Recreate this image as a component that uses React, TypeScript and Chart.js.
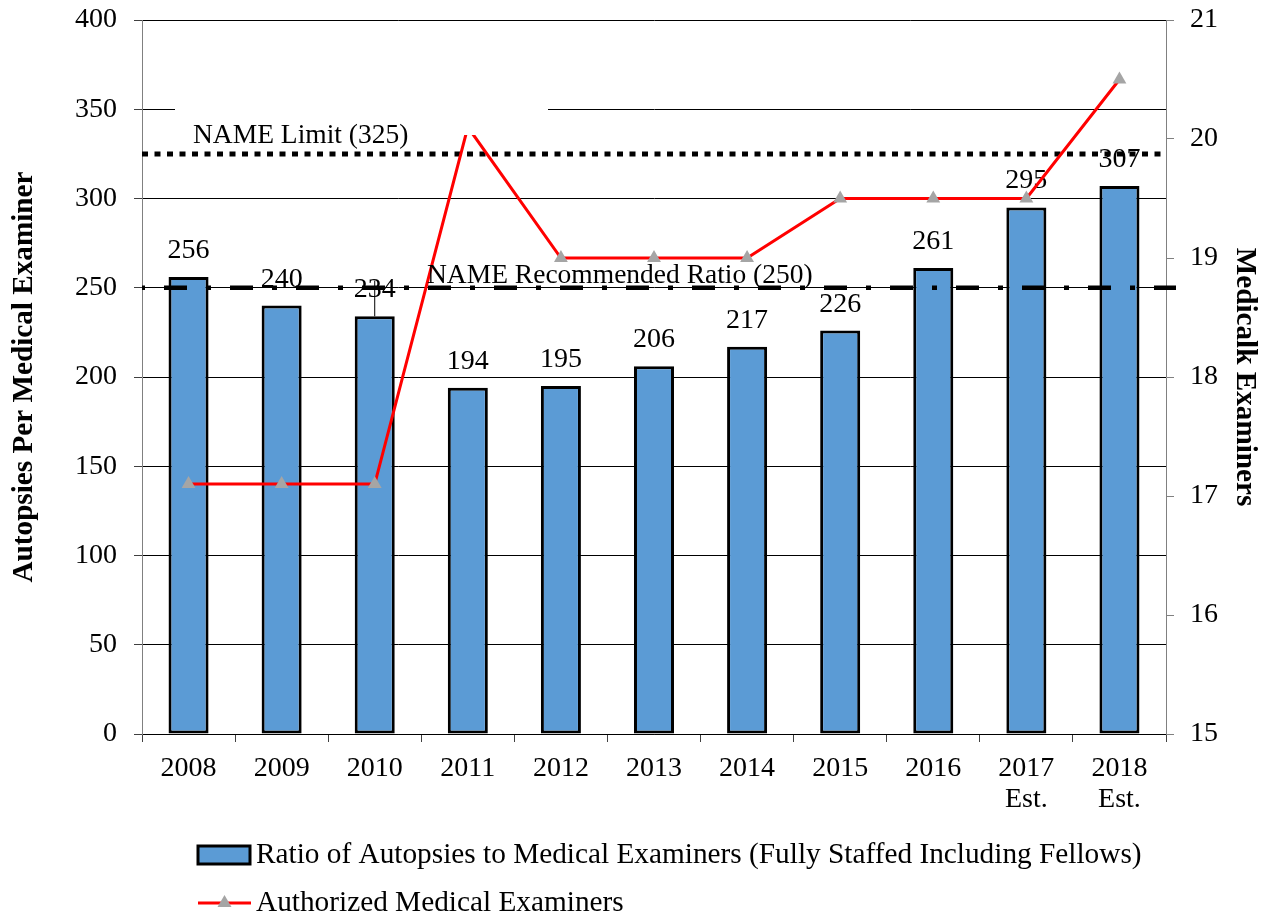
import React, { useEffect, useRef } from 'react';
import { Chart, registerables } from 'chart.js';

Chart.register(...registerables);

const categories: string[][] = [
  ['2008'], ['2009'], ['2010'], ['2011'], ['2012'], ['2013'], ['2014'], ['2015'], ['2016'],
  ['2017', 'Est.'], ['2018', 'Est.'],
];
const ratioValues = [256, 240, 234, 194, 195, 206, 217, 226, 261, 295, 307];
const examinerValues = [17.1, 17.1, 17.1, 20.1, 19, 19, 19, 19.5, 19.5, 19.5, 20.5];
const nameLimit = 325;
const nameRecommended = 250;
const ratioLabel = 'Ratio of Autopsies to Medical Examiners (Fully Staffed Including Fellows)';
const examinerLabel = 'Authorized Medical Examiners';
const leftTitle = 'Autopsies Per Medical Examiner';
const rightTitle = 'Medicalk Examiners';
const limitText = 'NAME Limit (325)';
const recommendedText = 'NAME Recommended Ratio (250)';

const FONT = '"Liberation Serif", "Times New Roman", serif';
const BAR_BLUE = '#5B9BD5';
const LINE_RED = '#FF0000';
const POINT_GRAY = '#A5A5A5';

const annotationPlugin = {
  id: 'annotations',
  afterDatasetDraw(chart: any, args: any) {
    if (args.index !== 0) return;
    const ctx = chart.ctx;
    const { left, right } = chart.chartArea;
    const y = chart.scales.y;
    ctx.save();
    // data labels
    ctx.font = `28px ${FONT}`;
    ctx.fillStyle = '#000';
    ctx.textAlign = 'center';
    ctx.textBaseline = 'alphabetic';
    args.meta.data.forEach((bar: any, i: number) => {
      ctx.fillText(String(ratioValues[i]), bar.x, bar.y - 19);
    });
    // small vertical connector above 2010 bar
    const b2010 = args.meta.data[2];
    ctx.strokeStyle = '#000';
    ctx.lineWidth = 1;
    ctx.beginPath();
    ctx.moveTo(b2010.x, y.getPixelForValue(nameRecommended) - 7);
    ctx.lineTo(b2010.x, b2010.y);
    ctx.stroke();
    // recommended dash-dot
    const yr = y.getPixelForValue(nameRecommended);
    ctx.lineWidth = 4.5;
    ctx.setLineDash([5, 19, 23, 19]);
    ctx.lineDashOffset = 2;
    ctx.beginPath();
    ctx.moveTo(left, yr);
    ctx.lineTo(right + 10, yr);
    ctx.stroke();
    // limit dotted
    const yl = y.getPixelForValue(nameLimit);
    ctx.lineWidth = 5;
    ctx.setLineDash([6, 6.5]);
    ctx.lineDashOffset = 0;
    ctx.beginPath();
    ctx.moveTo(left, yl);
    ctx.lineTo(right - 4, yl);
    ctx.stroke();
    ctx.restore();
  },
  afterDatasetsDraw(chart: any) {
    const ctx = chart.ctx;
    const y = chart.scales.y;
    ctx.save();
    // white label box for limit text
    ctx.fillStyle = '#fff';
    ctx.fillRect(175, 98, 373, 37);
    ctx.fillStyle = '#000';
    ctx.font = `27.5px ${FONT}`;
    ctx.textAlign = 'left';
    ctx.textBaseline = 'alphabetic';
    ctx.fillText(limitText, 193, y.getPixelForValue(nameLimit) - 11);
    ctx.fillText(recommendedText, 427, y.getPixelForValue(nameRecommended) - 5);

    // legend
    ctx.font = `29.3px ${FONT}`;
    ctx.textBaseline = 'middle';
    ctx.fillStyle = BAR_BLUE;
    ctx.fillRect(198, 846, 52, 18);
    ctx.strokeStyle = '#000';
    ctx.lineWidth = 3;
    ctx.strokeRect(198, 846, 52, 18);
    ctx.fillStyle = '#000';
    ctx.fillText(ratioLabel, 256, 855);

    ctx.strokeStyle = LINE_RED;
    ctx.lineWidth = 3;
    ctx.beginPath();
    ctx.moveTo(198, 903);
    ctx.lineTo(251, 903);
    ctx.stroke();
    ctx.fillStyle = POINT_GRAY;
    ctx.beginPath();
    ctx.moveTo(224.5, 895);
    ctx.lineTo(231.5, 907);
    ctx.lineTo(217.5, 907);
    ctx.closePath();
    ctx.fill();
    ctx.fillStyle = '#000';
    ctx.fillText(examinerLabel, 256, 903);
    ctx.restore();
  },
};

export default function App() {
  const canvasRef = useRef<HTMLCanvasElement | null>(null);

  useEffect(() => {
    if (!canvasRef.current) return;
    const chart = new Chart(canvasRef.current, {
      type: 'bar',
      data: {
        labels: categories as any,
        datasets: [
          {
            type: 'bar',
            label: ratioLabel,
            data: ratioValues,
            backgroundColor: BAR_BLUE,
            borderColor: '#000',
            borderWidth: 3,
            borderSkipped: false,
            barPercentage: 0.43,
            categoryPercentage: 1,
            yAxisID: 'y',
            order: 1,
          } as any,
          {
            type: 'line',
            label: examinerLabel,
            data: examinerValues,
            borderColor: LINE_RED,
            borderWidth: 3,
            pointStyle: 'triangle',
            pointRadius: 8,
            pointBackgroundColor: POINT_GRAY,
            pointBorderColor: POINT_GRAY,
            pointBorderWidth: 0,
            tension: 0,
            yAxisID: 'y1',
            order: 0,
          } as any,
        ],
      },
      options: {
        responsive: false,
        animation: false,
        layout: { padding: { top: 20, left: 0, right: 0, bottom: 0 } },
        plugins: {
          legend: { display: false },
          title: { display: false },
          tooltip: { enabled: false },
        },
        scales: {
          x: {
            grid: { offset: true, drawOnChartArea: false, tickLength: 8, color: '#404040' },
            border: { color: '#000', width: 1 },
            ticks: {
              font: { family: FONT, size: 28, lineHeight: 1.1 },
              color: '#000',
              padding: 11,
              maxRotation: 0,
              autoSkip: false,
            },
            afterFit: (s: any) => { s.height = 185; s.paddingLeft = 0; s.paddingRight = 0; },
          },
          y: {
            position: 'left',
            min: 0,
            max: 400,
            ticks: { stepSize: 50, font: { family: FONT, size: 28 }, color: '#000', padding: 17 },
            grid: { color: '#000', lineWidth: 1, tickLength: 8, tickColor: '#404040' },
            border: { color: '#808080', width: 1 },
            title: {
              display: true,
              text: leftTitle,
              font: { family: FONT, size: 29.2, weight: 'bold' },
              color: '#000',
              padding: { top: 7, bottom: 0 },
            },
            afterFit: (s: any) => { s.width = 142; s.paddingTop = 0; s.paddingBottom = 0; },
          },
          y1: {
            position: 'right',
            min: 15,
            max: 21,
            ticks: { stepSize: 1, font: { family: FONT, size: 28 }, color: '#000', padding: 16 },
            grid: { drawOnChartArea: false, tickLength: 8, color: '#808080' },
            border: { color: '#808080', width: 1 },
            title: {
              display: true,
              text: rightTitle,
              font: { family: FONT, size: 29.2, weight: 'bold' },
              color: '#000',
              padding: { top: 2, bottom: 0 },
            },
            afterFit: (s: any) => { s.width = 98; s.paddingTop = 0; s.paddingBottom = 0; },
          },
        },
      } as any,
      plugins: [annotationPlugin],
    });
    return () => chart.destroy();
  }, []);

  return (
    <div style={{ position: 'fixed', left: 0, top: 0, width: 1264, height: 919, background: '#fff' }}>
      <canvas ref={canvasRef} width={1264} height={919} />
    </div>
  );
}
